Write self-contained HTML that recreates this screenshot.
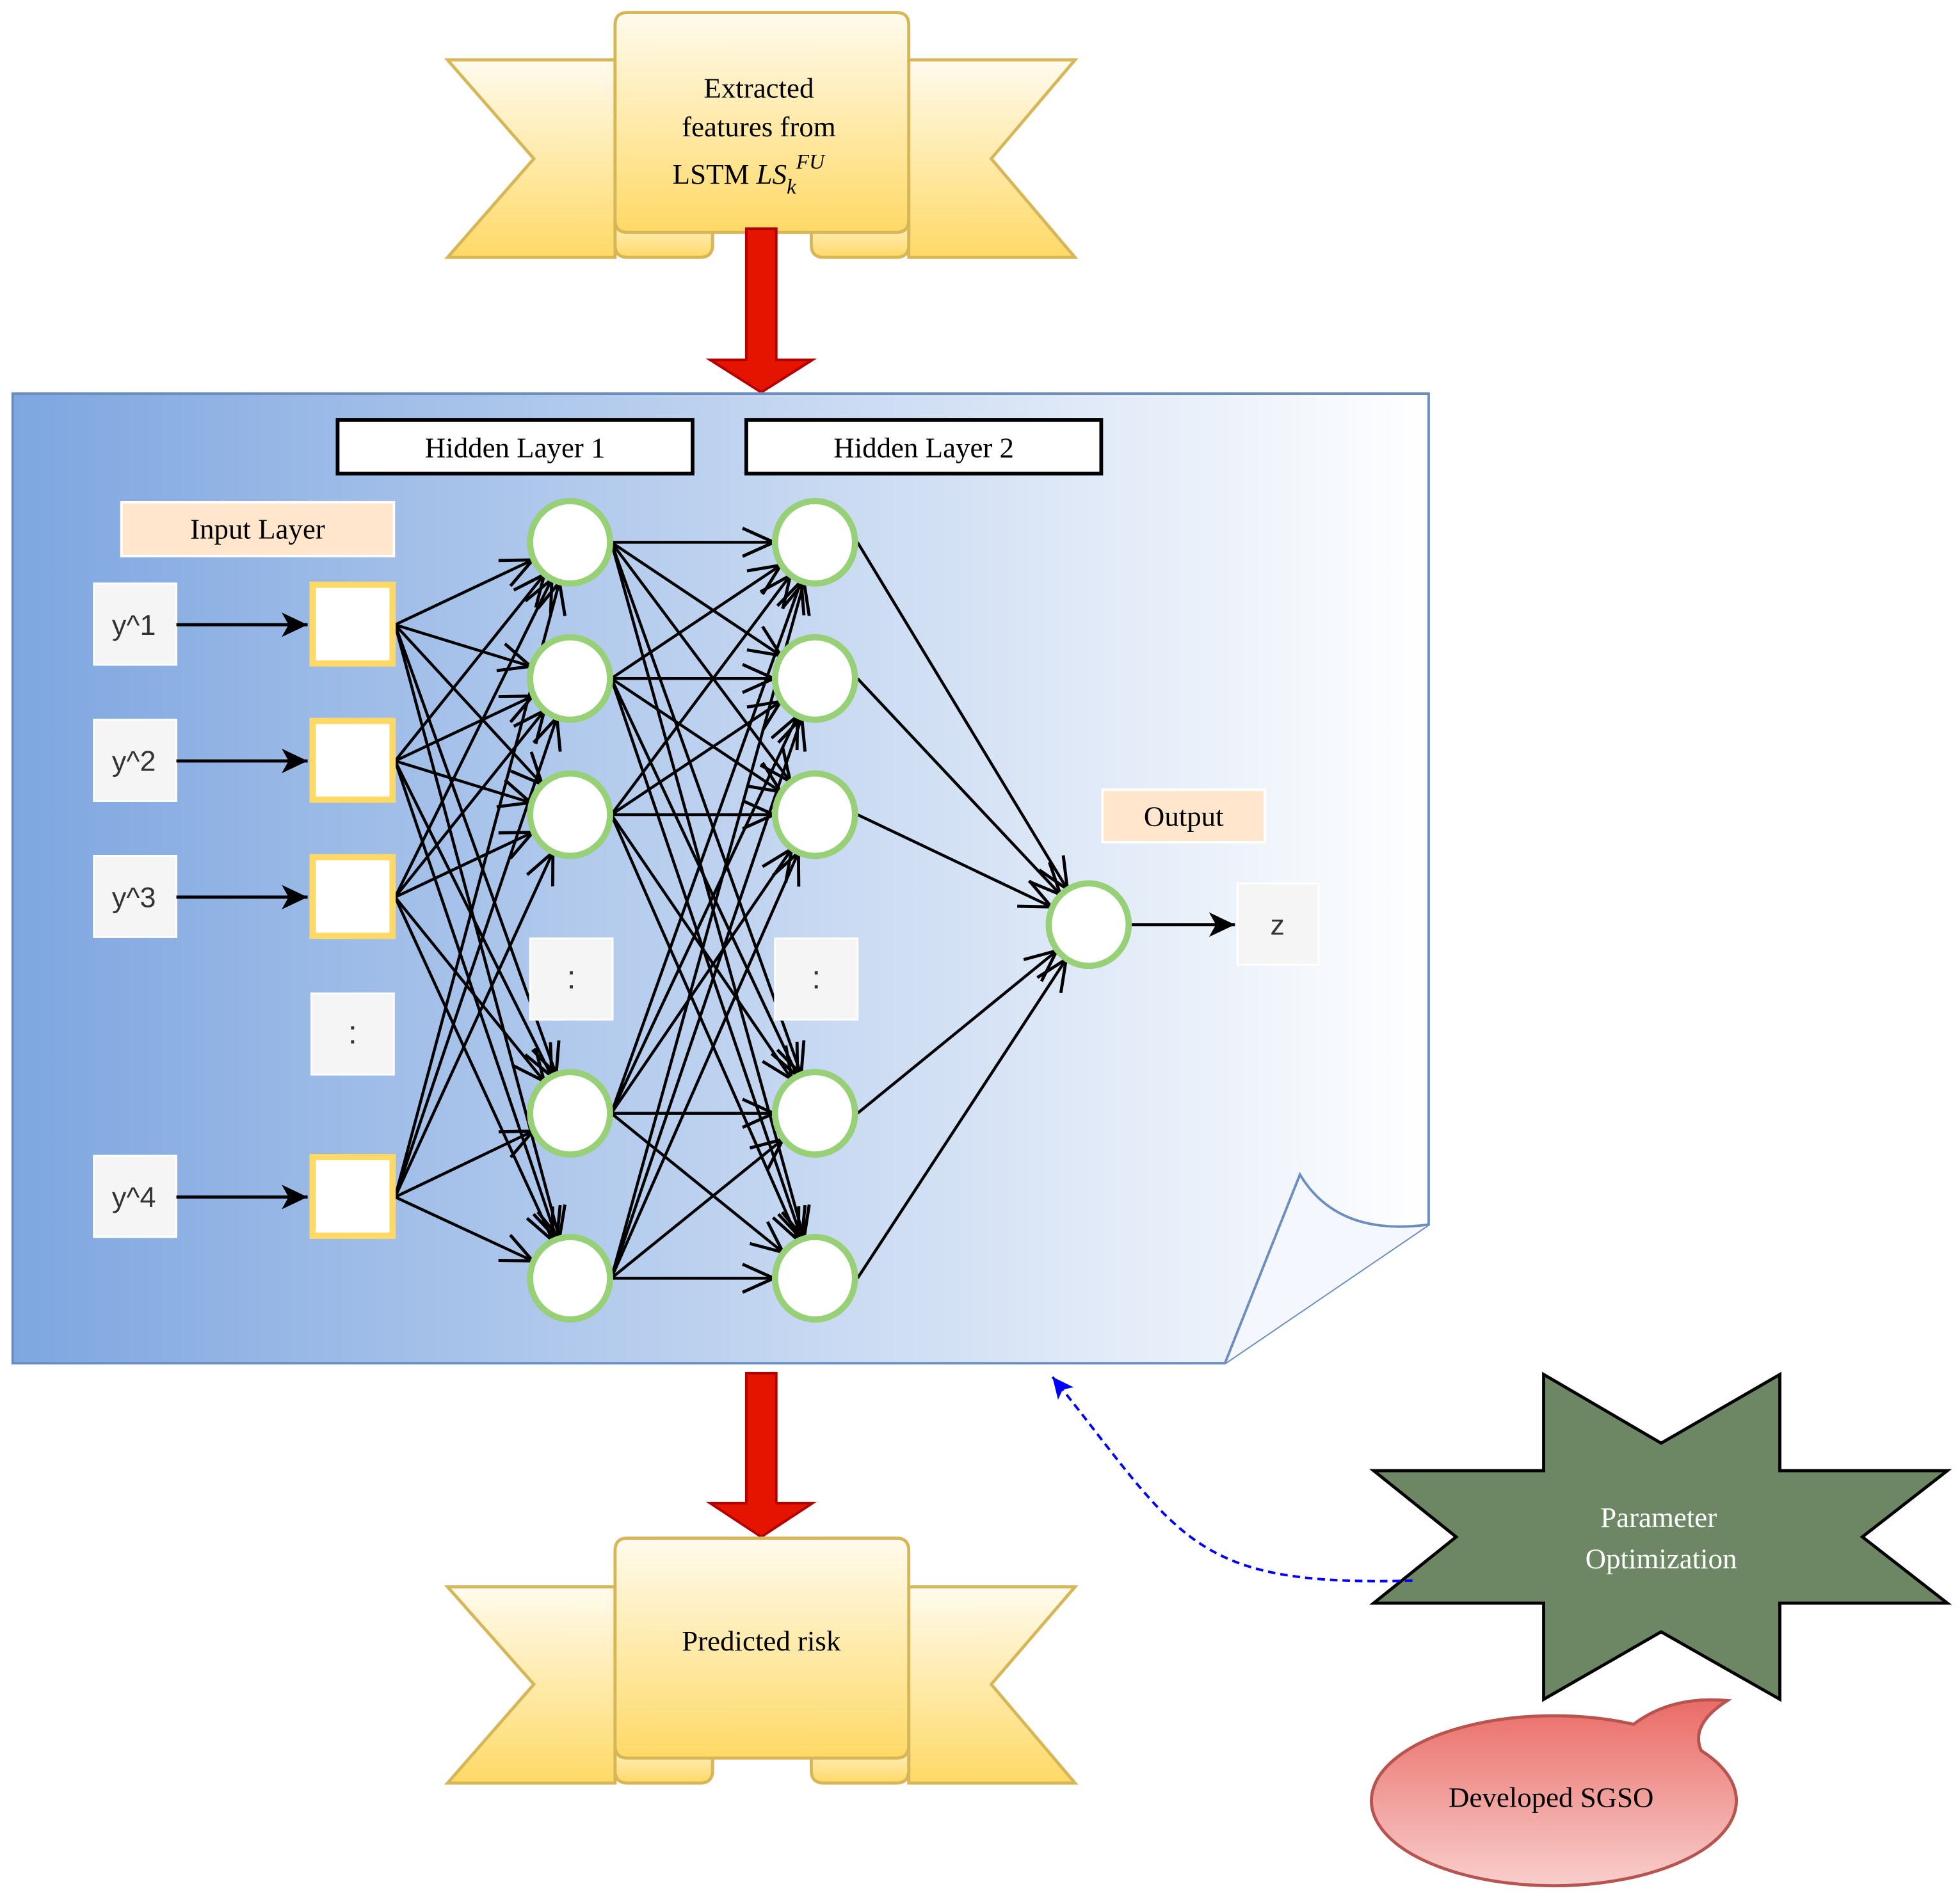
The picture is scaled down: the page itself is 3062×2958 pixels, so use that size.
<!DOCTYPE html>
<html><head><meta charset="utf-8"><style>
html,body{margin:0;padding:0;background:#fff;}
svg{display:block;}
text{font-family:"Liberation Serif",serif;}
.sans{font-family:"Liberation Sans",sans-serif;}
</style></head><body>
<svg id="s" width="3062" height="2958" viewBox="0 0 1568 1515" xmlns="http://www.w3.org/2000/svg">
<defs>
<linearGradient id="gold" x1="0" y1="0" x2="0" y2="1"><stop offset="0" stop-color="#FFFBEE"/><stop offset="1" stop-color="#FFD966"/></linearGradient>
<linearGradient id="blue" x1="0" y1="0" x2="1" y2="0"><stop offset="0" stop-color="#7EA6E0"/><stop offset="1" stop-color="#ffffff"/></linearGradient>
<linearGradient id="red" x1="0" y1="0" x2="0" y2="1"><stop offset="0" stop-color="#EA6B66"/><stop offset="1" stop-color="#F8CECC"/></linearGradient>
<marker id="op" markerUnits="userSpaceOnUse" markerWidth="30" markerHeight="30" refX="22" refY="10" viewBox="0 0 24 20" orient="auto"><path d="M2,1 L22,10 L2,19" fill="none" stroke="#000" stroke-width="2"/></marker>
<marker id="bl" markerUnits="userSpaceOnUse" markerWidth="24" markerHeight="24" refX="20" refY="10" viewBox="0 0 22 20" orient="auto"><path d="M1,1 L20,10 L1,19 L6,10 Z" fill="#000"/></marker>
<marker id="bb" markerUnits="userSpaceOnUse" markerWidth="20" markerHeight="20" refX="18" refY="10" viewBox="0 0 20 20" orient="auto"><path d="M1,2 L18,10 L1,18 L5,10 Z" fill="#0000FF"/></marker>
</defs>

<!-- top banner -->
<g stroke="#D6B656" stroke-width="2.5" fill="url(#gold)">
<path d="M358,48 L492,48 L492,206 L358,206 L427,127 Z"/>
<path d="M860,48 L727,48 L727,206 L860,206 L793,127 Z"/>
<path d="M502,167 L570,167 L570,196 Q570,206 560,206 L502,206 Q492,206 492,196 L492,177 Q492,167 502,167 Z"/>
<path d="M659,167 L717,167 Q727,167 727,177 L727,196 Q727,206 717,206 L659,206 Q649,206 649,196 L649,177 Z"/>
<path d="M492,20 Q492,10 502,10 L717,10 Q727,10 727,20 L727,176 Q727,186 717,186 L502,186 Q492,186 492,176 Z"/>
</g>
<text x="607" y="78" font-size="23" text-anchor="middle">Extracted</text>
<text x="607" y="109" font-size="23" text-anchor="middle">features from</text>
<text x="538" y="147" font-size="23">LSTM <tspan font-style="italic">LS</tspan><tspan font-style="italic" font-size="17" dy="8">k</tspan><tspan font-style="italic" font-size="17" dy="-20">FU</tspan></text>

<!-- red arrows -->
<path d="M597,183 L621,183 L621,288 L650,288 L609,314 L568,288 L597,288 Z" fill="#E51400" stroke="#B20000" stroke-width="2"/>
<path d="M597,1099 L621,1099 L621,1203 L650,1203 L609,1230 L568,1203 L597,1203 Z" fill="#E51400" stroke="#B20000" stroke-width="2"/>

<!-- document -->
<path d="M10,315 L1143,315 L1143,980 L980,1091 L10,1091 Z" fill="url(#blue)" stroke="#6C8EBF" stroke-width="2"/>
<path d="M980,1091 L1040,940 Q1070,990 1143,980" fill="#F4F7FD" stroke="#6C8EBF" stroke-width="2"/>

<rect x="270" y="336" width="284" height="43" fill="#fff" stroke="#000" stroke-width="3"/>
<text x="412" y="366" font-size="23" text-anchor="middle">Hidden Layer 1</text>
<rect x="597" y="336" width="284" height="43" fill="#fff" stroke="#000" stroke-width="3"/>
<text x="739" y="366" font-size="23" text-anchor="middle">Hidden Layer 2</text>
<rect x="97" y="402" width="218" height="43" fill="#FFE6CC" stroke="#fff" stroke-width="2"/>
<text x="206" y="431" font-size="23" text-anchor="middle">Input Layer</text>
<rect x="882" y="632" width="130" height="42" fill="#FFE6CC" stroke="#fff" stroke-width="2"/>
<text x="947" y="661" font-size="23" text-anchor="middle">Output</text>

<g id="edges" stroke="#000" stroke-width="2.3" fill="none"></g>

<g fill="#F5F5F5" stroke="#fff" stroke-width="1.5">
<rect x="75" y="467" width="66" height="65"/><rect x="75" y="576" width="66" height="65"/>
<rect x="75" y="685" width="66" height="65"/><rect x="75" y="925" width="66" height="65"/>
<rect x="249" y="795" width="66" height="65"/><rect x="424" y="751" width="66" height="65"/>
<rect x="620" y="751" width="66" height="65"/><rect x="990" y="707" width="65" height="65"/>
</g>
<g class="sans" font-size="23" fill="#333" text-anchor="middle">
<text x="107" y="508" class="sans">y^1</text><text x="107" y="617" class="sans">y^2</text>
<text x="107" y="726" class="sans">y^3</text><text x="107" y="966" class="sans">y^4</text>
<text x="282" y="835" class="sans" font-size="26">:</text><text x="457" y="791" class="sans" font-size="26">:</text>
<text x="653" y="791" class="sans" font-size="26">:</text><text x="1022" y="748" class="sans">z</text>
</g>
<g stroke="#000" stroke-width="2.5">
<line x1="141" y1="500" x2="246" y2="500" marker-end="url(#bl)"/>
<line x1="141" y1="609" x2="246" y2="609" marker-end="url(#bl)"/>
<line x1="141" y1="718" x2="246" y2="718" marker-end="url(#bl)"/>
<line x1="141" y1="958" x2="246" y2="958" marker-end="url(#bl)"/>
<line x1="905" y1="740" x2="988" y2="740" marker-end="url(#bl)"/>
</g>
<g fill="#fff" stroke="#FFD966" stroke-width="5">
<rect x="250" y="468" width="64" height="63"/><rect x="250" y="577" width="64" height="63"/>
<rect x="250" y="686" width="64" height="63"/><rect x="250" y="926" width="64" height="63"/>
</g>
<g id="nodes" fill="#fff" stroke="#97D077" stroke-width="5"></g>

<!-- bottom banner -->
<g stroke="#D6B656" stroke-width="2.5" fill="url(#gold)">
<path d="M358,1270 L492,1270 L492,1427 L358,1427 L427,1348 Z"/>
<path d="M860,1270 L727,1270 L727,1427 L860,1427 L793,1348 Z"/>
<path d="M502,1388 L570,1388 L570,1417 Q570,1427 560,1427 L502,1427 Q492,1427 492,1417 L492,1398 Q492,1388 502,1388 Z"/>
<path d="M659,1388 L717,1388 Q727,1388 727,1398 L727,1417 Q727,1427 717,1427 L659,1427 Q649,1427 649,1417 L649,1398 Z"/>
<path d="M492,1241 Q492,1231 502,1231 L717,1231 Q727,1231 727,1241 L727,1397 Q727,1407 717,1407 L502,1407 Q492,1407 492,1397 Z"/>
</g>
<text x="609" y="1321" font-size="23" text-anchor="middle">Predicted risk</text>

<!-- star -->
<polygon points="1099,1177 1235,1177 1235,1100 1329,1155 1424,1100 1424,1177 1558,1177 1490,1230 1558,1283 1424,1283 1424,1360 1329,1306 1235,1360 1235,1283 1099,1283 1165,1230" fill="#6D8764" stroke="#000" stroke-width="2.5"/>
<text x="1327" y="1222" font-size="23" fill="#fff" text-anchor="middle">Parameter</text>
<text x="1329" y="1255" font-size="23" fill="#fff" text-anchor="middle">Optimization</text>
<path d="M1130,1265 C950,1270 945,1230 842,1102" fill="none" stroke="#0000FF" stroke-width="2" stroke-dasharray="6,4" marker-end="url(#bb)"/>

<!-- callout -->
<path transform="translate(-8,-3)" d="M1369,1404 A146,68 0 1 1 1315,1383 Q1345,1360 1390,1364 Q1360,1383 1369,1404 Z" fill="url(#red)" stroke="#B85450" stroke-width="2.5"/>
<text x="1241" y="1446" font-size="23" text-anchor="middle">Developed SGSO</text>
</svg>
<script>
(function(){
var NS="http://www.w3.org/2000/svg";
var eg=document.getElementById("edges"),ng=document.getElementById("nodes");
var ins=[500,609,718,958],hy=[434,543,652,891,1023],r=33;
function ln(x1,y1,x2,y2){var dx=x2-x1,dy=y2-y1,d=Math.sqrt(dx*dx+dy*dy);
var ex=x2-dx/d*r,ey=y2-dy/d*r;var l=document.createElementNS(NS,"line");
l.setAttribute("x1",x1);l.setAttribute("y1",y1);l.setAttribute("x2",ex);l.setAttribute("y2",ey);
l.setAttribute("marker-end","url(#op)");eg.appendChild(l);}
ins.forEach(function(a){hy.forEach(function(b){ln(316,a,456,b);});});
hy.forEach(function(a){hy.forEach(function(b){ln(489,a,652,b);});});
hy.forEach(function(a){ln(686,a,871,740);});
function c(x,y){var e=document.createElementNS(NS,"ellipse");e.setAttribute("cx",x);e.setAttribute("cy",y);e.setAttribute("rx",32);e.setAttribute("ry",33);ng.appendChild(e);}
hy.forEach(function(y){c(456,y);c(652,y);});c(871,740);
})();
</script>
</body></html>
